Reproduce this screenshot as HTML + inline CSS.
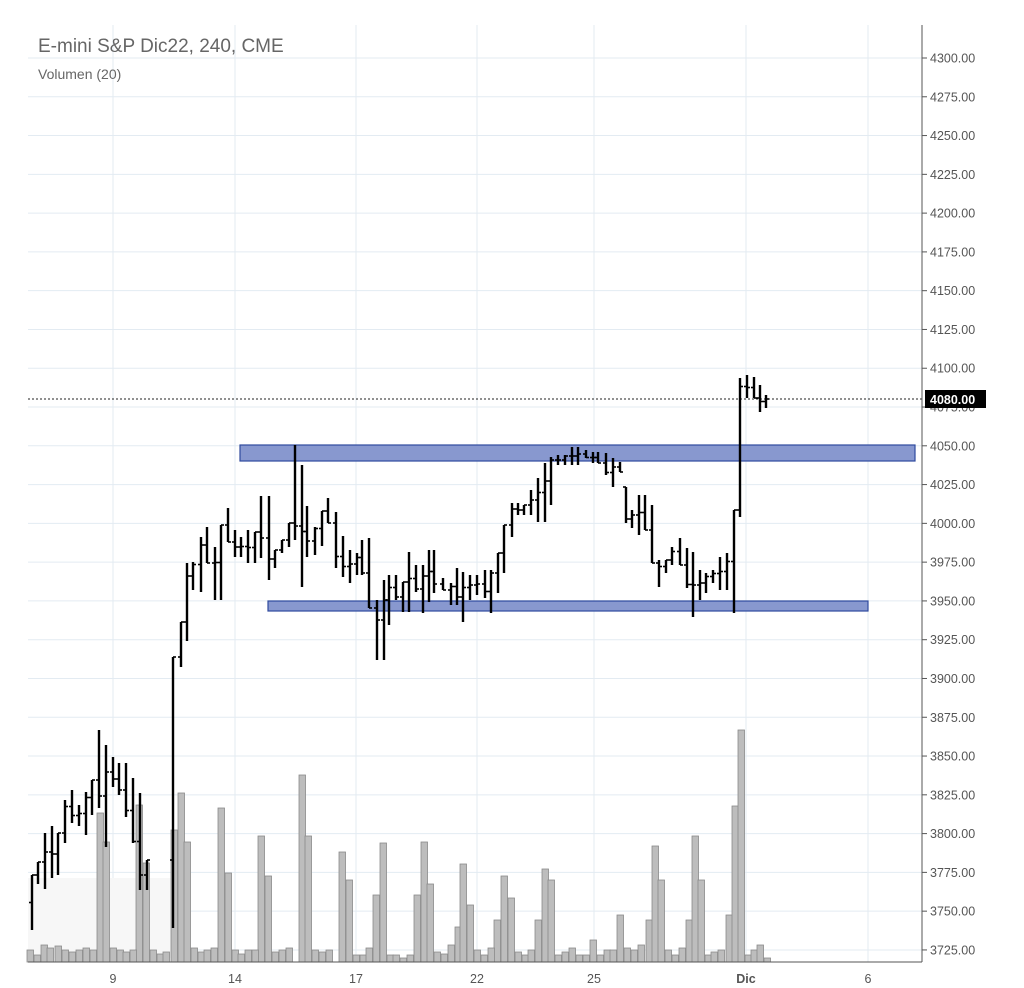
<!DOCTYPE html>
<html><head><meta charset="utf-8"><style>
html,body{margin:0;padding:0;background:#fff;width:1024px;height:988px;overflow:hidden;font-family:"Liberation Sans",sans-serif}
svg{display:block}
</style></head><body>
<svg id="c" width="1024" height="988" xmlns="http://www.w3.org/2000/svg">
<rect x="0" y="0" width="1024" height="988" fill="#fff"/>
<g id="grid"></g>
<g id="vol"></g>
<rect x="240" y="445" width="675" height="16" fill="#8898cf" stroke="#2f4a9e" stroke-width="1.2"/>
<rect x="268" y="601" width="600" height="10" fill="#8898cf" stroke="#2f4a9e" stroke-width="1.2"/>
<line x1="28" y1="399" x2="922" y2="399" stroke="#222" stroke-width="1" stroke-dasharray="2,2"/>
<g id="bars"></g>
<line x1="922" y1="25" x2="922" y2="962" stroke="#555" stroke-width="1"/>
<line x1="28" y1="962" x2="922" y2="962" stroke="#555" stroke-width="1"/>
<g id="ax" font-size="12.5" fill="#555"></g>
<rect x="925" y="390" width="61" height="18" fill="#000"/>
<text x="930" y="404" font-size="12.5" font-weight="bold" fill="#fff">4080.00</text>
<text x="38" y="52" font-size="19" fill="#666">E-mini S&amp;P Dic22, 240, CME</text>
<text x="38" y="79" font-size="14" fill="#666">Volumen (20)</text>
</svg>
<script>
var NS="http://www.w3.org/2000/svg";
function el(p,t,a,txt){var e=document.createElementNS(NS,t);for(var k in a)e.setAttribute(k,a[k]);if(txt!==undefined)e.textContent=txt;document.getElementById(p).appendChild(e);return e;}
for(var i=0;i<=23;i++){var p=4300-25*i;var y=58+i*38.78;
 el("grid","line",{x1:28,y1:y,x2:922,y2:y,stroke:"#e3ebf2","stroke-width":1});
 el("grid","line",{x1:922,y1:y,x2:927,y2:y,stroke:"#555","stroke-width":1});
 el("ax","text",{x:930,y:y+4.5},p.toFixed(2));}
var dx=[[113,"9"],[235,"14"],[356,"17"],[477,"22"],[594,"25"],[746,"Dic"],[868,"6"]];
dx.forEach(function(d){el("grid","line",{x1:d[0],y1:25,x2:d[0],y2:962,stroke:"#e3ebf2","stroke-width":1});
 el("ax","text",{x:d[0],y:983,"text-anchor":"middle","font-weight":d[1]=="Dic"?"bold":"normal"},d[1]);});
el("vol","rect",{x:28,y:878,width:150,height:80,fill:"#f7f7f7"});
var V=[[100,813],[106,842],[139,805],[146,863],[174,830],[181,793],[187,842],[221,808],[228,873],[261,836],[268,876],[302,775],[308,836],[342,852],[349,880],[376,895],[383,843],[417,895],[424,842],[430,884],[458,927],[463,864],[470,905],[497,920],[504,876],[511,898],[538,920],[545,869],[551,880],[593,940],[620,915],[649,920],[655,846],[661,880],[689,920],[695,836],[701,880],[729,915],[735,806],[741,730],
[30,950],[37,955],[44,945],[50,948],[58,946],[65,950],[72,952],[79,950],[86,948],[93,950],[113,948],[120,950],[126,952],[133,950],[153,950],[160,954],[166,952],[194,948],[201,952],[207,950],[214,948],[235,950],[241,954],[248,950],[255,950],[275,952],[282,950],[289,948],[315,950],[322,952],[329,950],[356,955],[363,955],[369,948],[390,955],[396,955],[403,958],[410,955],[437,952],[444,954],[451,945],[477,950],[484,955],[491,948],[518,952],[525,955],[531,950],[558,955],[565,952],[572,948],[579,955],[586,955],[600,955],[607,950],[613,950],[627,948],[634,950],[641,945],[668,950],[675,955],[682,948],[708,955],[714,952],[721,950],[748,955],[754,950],[760,945],[767,958]];
V.forEach(function(v){el("vol","rect",{x:v[0]-3,y:v[1],width:6.5,height:962-v[1],fill:"#bdbdbd",stroke:"#8a8a8a","stroke-width":0.8});});
var B=[[32,875,930],[38,862,884],[45,833,889],[52,826,878],[58,833,875],[65,800,843],[72,790,823],[79,805,826],[86,792,835],[92,780,815],[99,730,808],[106,745,847],[113,757,787],[119,763,795],[126,763,817],[133,778,843],[140,793,890],[147,860,890],
[173,657,928],[181,622,667],[187,563,641],[193,562,590],[201,537,592],[207,527,563],[215,547,600],[221,525,600],[228,508,542],[235,530,557],[241,537,557],[248,530,563],[255,532,563],[261,496,558],[269,496,580],[275,550,568],[282,540,553],[289,523,547],[295,445,540],[302,465,587],[307,506,557],[315,527,555],[322,511,546],[328,498,523],[336,512,568],[343,536,577],[350,550,583],[357,553,575],[362,540,575],[369,538,608],[377,600,660],[384,580,660],[389,575,625],[396,575,600],[403,582,612],[409,552,612],[416,565,592],[423,565,613],[429,550,602],[434,550,593],[443,578,590],[451,583,605],[457,568,605],[463,572,622],[470,575,600],[477,575,595],[485,570,598],[491,570,613],[498,553,593],[504,525,573],[512,503,537],[518,503,515],[524,505,515],[531,490,515],[538,478,522],[545,463,522],[551,457,505],[558,455,465],[565,455,465],[572,447,465],[578,447,465],[586,450,458],[593,452,463],[598,452,463],[606,453,475],[613,458,487],[620,462,472],[626,487,523],[632,510,528],[639,495,535],[645,495,530],[652,505,563],[659,560,587],[666,560,573],[672,547,565],[680,538,565],[687,548,588],[693,552,617],[700,570,600],[706,573,593],[713,570,583],[720,557,590],[727,553,590],[734,510,613],[740,378,517],[747,375,398],[754,377,398],[760,385,412],[766,395,408]];
var prevC=null;
B.forEach(function(b,i){var x=b[0],h=b[1],l=b[2];
 var o=prevC===null?(h+l)/2:Math.min(Math.max(prevC,h),l);
 var nx=B[i+1];var c=nx?Math.min(Math.max((nx[1]+nx[2])/2,h),l):(h+l)/2;
 if(i===B.length-1)c=399;
 el("bars","line",{x1:x,y1:h,x2:x,y2:l,stroke:"#000","stroke-width":2.4});
 el("bars","line",{x1:x-3,y1:o,x2:x,y2:o,stroke:"#000","stroke-width":1.6});
 el("bars","line",{x1:x,y1:c,x2:x+3,y2:c,stroke:"#000","stroke-width":1.6});
 prevC=c;});
</script>
</body></html>
